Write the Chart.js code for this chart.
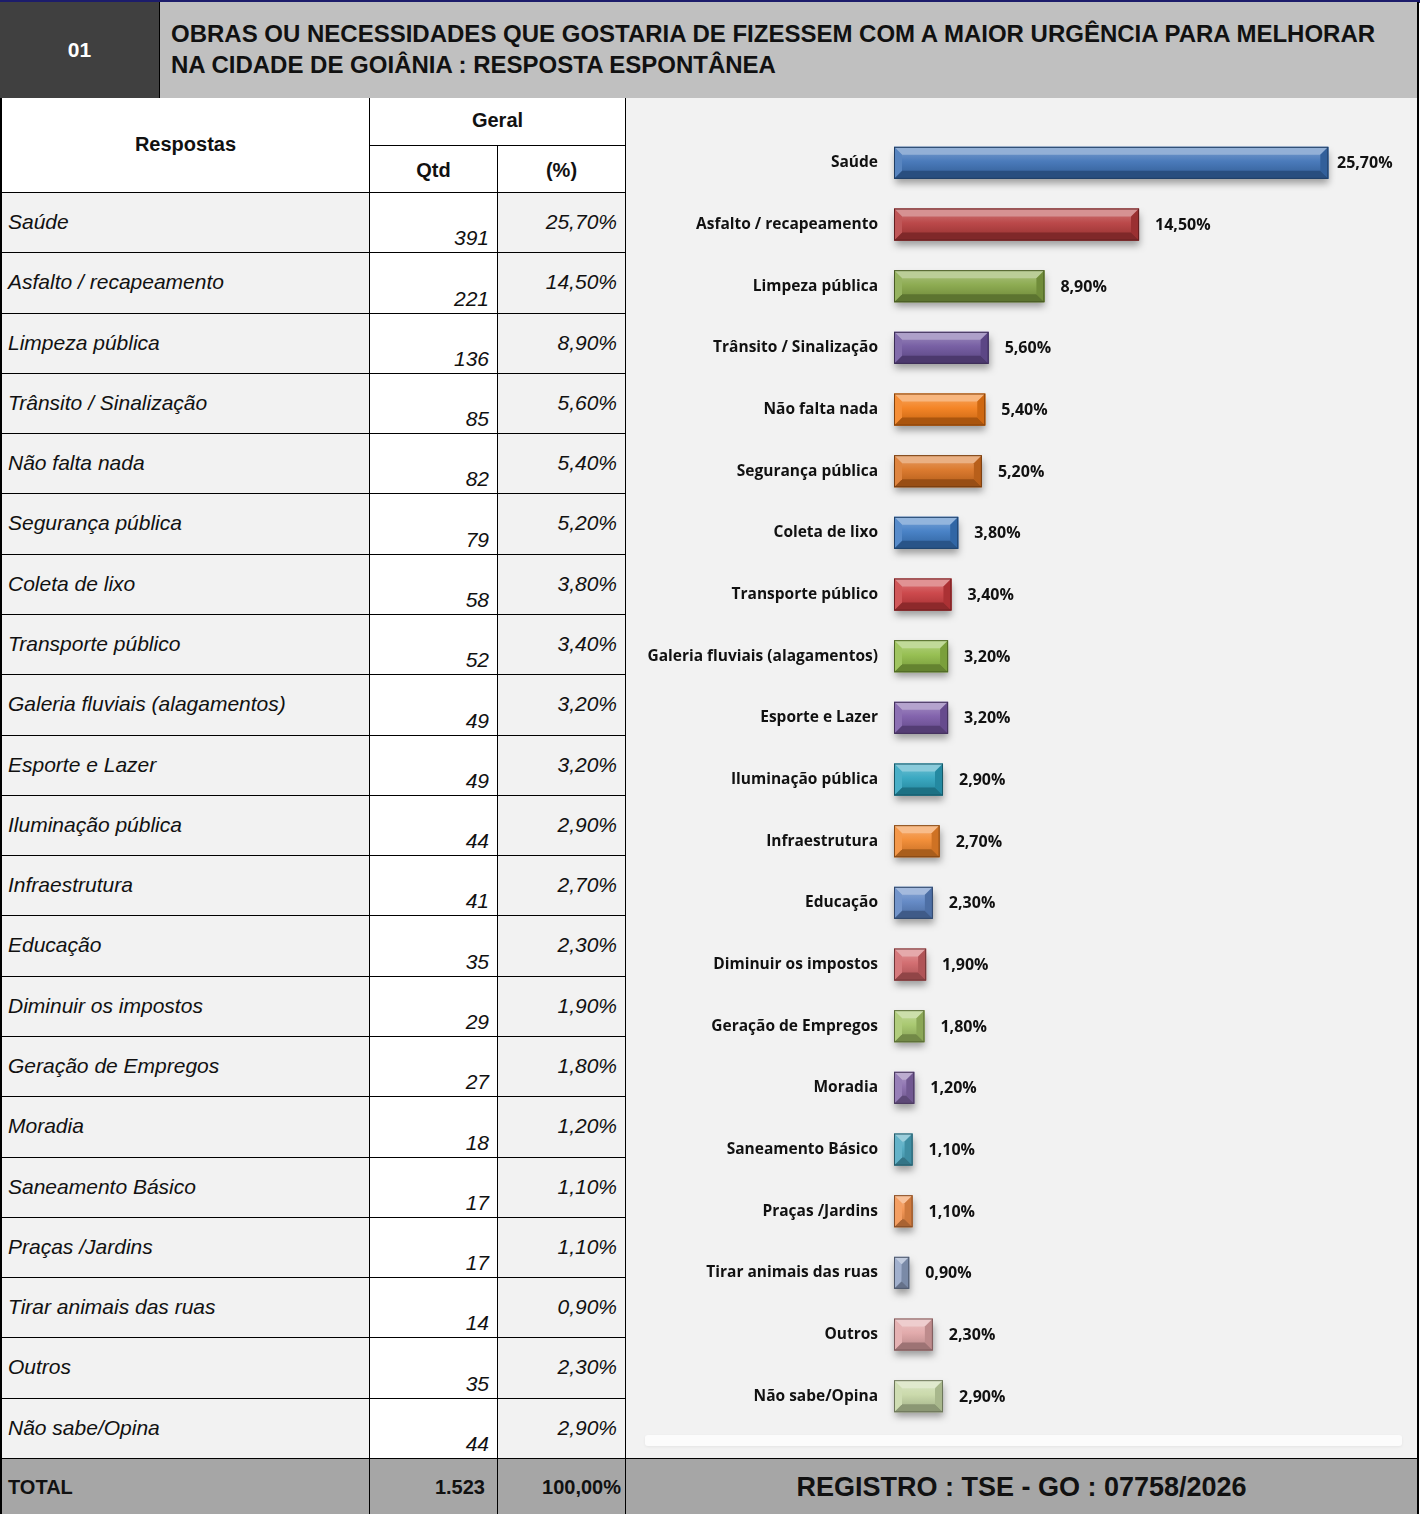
<!DOCTYPE html>
<html>
<head>
<meta charset="utf-8">
<script src="https://cdn.jsdelivr.net/npm/chart.js@4.4.1/dist/chart.umd.min.js"></script>
<style>
  body { margin: 0; background: #fff; font-family: "Liberation Sans", Arial, sans-serif; }
  #page { position: relative; width: 1424px; height: 1514px; overflow: hidden; }
  .abs { position: absolute; box-sizing: border-box; }
  #topline { left: 0; top: 0; width: 1420px; height: 3px; background: #1c1c6b; }
  #num { left: 0; top: 2px; width: 159px; height: 97px; background: #404040; color: #fff;
    font-weight: bold; font-size: 21px; display: flex; align-items: center; justify-content: center; border-bottom: 1px solid #000; }
  #title { left: 159px; top: 2px; width: 1260px; height: 97px; background: #c0c0c0; border-left: 1px solid #000;
    border-right: 2px solid #000; border-bottom: 1px solid #000;
    font-weight: bold; font-size: 24px; line-height: 31px; padding: 16px 0 0 11px; color: #111; }
  .cell { position: absolute; box-sizing: border-box; border-right: 1px solid #000; border-bottom: 1px solid #000; }
  .lab { font-style: italic; font-size: 21px; color: #111; }
  #chartBox { left: 626px; top: 98px; width: 793px; height: 1361px; background: #f2f2f2;
    border-right: 2px solid #000; border-bottom: 1px solid #000; }
  #floor { left: 645px; top: 1435px; width: 757px; height: 11px; background: #fcfcfc; border-radius: 3px;
    box-shadow: 0 1px 3px rgba(0,0,0,0.06); }
  .tot { font-weight: bold; font-size: 20px; color: #111; }
</style>
</head>
<body>
<div id="page">
  <div id="topline" class="abs"></div>
  <div id="num" class="abs">01</div>
  <div id="title" class="abs">OBRAS OU NECESSIDADES QUE GOSTARIA DE FIZESSEM COM A MAIOR URGÊNCIA PARA MELHORAR<br>NA CIDADE DE GOIÂNIA : RESPOSTA ESPONTÂNEA</div>
  <div id="tbl"></div>
  <div id="chartBox" class="abs"><canvas id="grafico" width="791" height="1360"></canvas></div>
  <div id="floor" class="abs"></div>
</div>
<script>
// dados da pesquisa
const respostas = ["Saúde", "Asfalto / recapeamento", "Limpeza pública", "Trânsito / Sinalização", "Não falta nada",
  "Segurança pública", "Coleta de lixo", "Transporte público", "Galeria fluviais (alagamentos)", "Esporte e Lazer",
  "Iluminação pública", "Infraestrutura", "Educação", "Diminuir os impostos", "Geração de Empregos", "Moradia",
  "Saneamento Básico", "Praças /Jardins", "Tirar animais das ruas", "Outros", "Não sabe/Opina"];
const qtd = [391, 221, 136, 85, 82, 79, 58, 52, 49, 49, 44, 41, 35, 29, 27, 18, 17, 17, 14, 35, 44];
const pct = [25.7, 14.5, 8.9, 5.6, 5.4, 5.2, 3.8, 3.4, 3.2, 3.2, 2.9, 2.7, 2.3, 1.9, 1.8, 1.2, 1.1, 1.1, 0.9, 2.3, 2.9];
const cores = ["#3b70b5", "#b5393a", "#84a544", "#6c529c", "#f37a14", "#d9701e", "#3a78c2", "#c93a3d", "#8fbb45",
  "#7857a6", "#2aa1bd", "#f2862a", "#5a82c2", "#cf6366", "#a3c466", "#8568aa", "#4aa6bf", "#f28e48", "#90a2c4",
  "#e0a4a5", "#c6d7a5"];

const fmt = v => v.toFixed(2).replace('.', ',') + '%';

// Tabela
const tbl = document.getElementById("tbl");
function cell(x, y, w, h, html, css) {
  const d = document.createElement("div");
  d.className = "cell";
  d.style.cssText = `left:${x}px;top:${y}px;width:${w}px;height:${h}px;` + (css || "");
  d.innerHTML = html;
  tbl.appendChild(d);
  return d;
}
const hb = "font-weight:bold;font-size:20px;text-align:center;background:#fff;color:#111;";
cell(0, 98, 370, 95, "Respostas", "border-left:2px solid #000;line-height:92px;" + hb);
cell(370, 98, 256, 48, "Geral", "line-height:44px;" + hb);
cell(370, 146, 128, 47, "Qtd", "line-height:48px;" + hb);
cell(498, 146, 128, 47, "(%)", "line-height:48px;" + hb);
const rowH = (1459 - 193) / respostas.length;
respostas.forEach((r, i) => {
  const y = Math.round(193 + i * rowH), h = Math.round(193 + (i + 1) * rowH) - y;
  cell(0, y, 370, h, `<span style="position:absolute;left:6px;top:17px">${r}</span>`, "border-left:2px solid #000;background:#f2f2f2;").classList.add("lab");
  cell(370, y, 128, h, `<span style="position:absolute;right:8px;bottom:2px">${qtd[i]}</span>`, "background:#fff;").classList.add("lab");
  cell(498, y, 128, h, `<span style="position:absolute;right:8px;top:17px">${fmt(pct[i])}</span>`, "background:#f2f2f2;").classList.add("lab");
});
const total = qtd.reduce((a, b) => a + b, 0);
cell(0, 1459, 370, 56, `<span style="position:absolute;left:6px;top:17px">TOTAL</span>`, "border-left:2px solid #000;background:#a6a6a6;").classList.add("tot");
cell(370, 1459, 128, 56, `<span style="position:absolute;right:12px;top:17px">${total.toLocaleString('pt-BR')}</span>`, "background:#a6a6a6;").classList.add("tot");
cell(498, 1459, 128, 56, `<span style="position:absolute;right:4px;top:17px">100,00%</span>`, "background:#a6a6a6;").classList.add("tot");
cell(626, 1459, 793, 56, "REGISTRO : TSE - GO : 07758/2026", "border-right:2px solid #000;background:#a6a6a6;font-weight:bold;font-size:27px;text-align:center;line-height:56px;color:#111;");

// Barras com efeito bisel
function shade(hex, f) {
  const n = parseInt(hex.slice(1), 16);
  let r = n >> 16, g = (n >> 8) & 255, b = n & 255;
  const t = f < 0 ? 0 : 255, p = Math.abs(f);
  r = Math.round(r + (t - r) * p); g = Math.round(g + (t - g) * p); b = Math.round(b + (t - b) * p);
  return `rgb(${r},${g},${b})`;
}
const bisel = {
  id: 'bisel',
  afterDatasetsDraw(c) {
    const ctx = c.ctx;
    c.getDatasetMeta(0).data.forEach((bar, i) => {
      const { x, y, base, height } = bar.getProps(['x', 'y', 'base', 'height'], true);
      const x0 = base, x1 = x, y0 = y - height / 2, y1 = y + height / 2, w = x1 - x0;
      const b = Math.min(8, w / 2, height / 3);
      const col = cores[i];
      ctx.save();
      ctx.shadowColor = 'rgba(0,0,0,0.35)'; ctx.shadowBlur = 7; ctx.shadowOffsetY = 5; ctx.shadowOffsetX = 1;
      ctx.fillStyle = col; ctx.fillRect(x0, y0, w, height);
      ctx.restore();
      const g = ctx.createLinearGradient(0, y0, 0, y1);
      g.addColorStop(0, shade(col, 0.35)); g.addColorStop(0.45, shade(col, 0.08)); g.addColorStop(1, shade(col, -0.2));
      ctx.fillStyle = g; ctx.fillRect(x0, y0, w, height);
      const poly = (pts, fill) => { ctx.beginPath(); ctx.moveTo(pts[0][0], pts[0][1]); pts.slice(1).forEach(p => ctx.lineTo(p[0], p[1])); ctx.closePath(); ctx.fillStyle = fill; ctx.fill(); };
      poly([[x0, y0], [x1, y0], [x1 - b, y0 + b], [x0 + b, y0 + b]], shade(col, 0.45));
      poly([[x0, y1], [x1, y1], [x1 - b, y1 - b], [x0 + b, y1 - b]], shade(col, -0.3));
      poly([[x0, y0], [x0 + b, y0 + b], [x0 + b, y1 - b], [x0, y1]], shade(col, 0.15));
      poly([[x1, y0], [x1 - b, y0 + b], [x1 - b, y1 - b], [x1, y1]], shade(col, -0.15));
      ctx.strokeStyle = shade(col, -0.45); ctx.lineWidth = 1;
      ctx.strokeRect(x0 + 0.5, y0 + 0.5, w - 1, height - 1);
      // rótulo de valor
      ctx.fillStyle = '#111';
      ctx.font = 'bold 16px "Open Sans"';
      ctx.textBaseline = 'middle'; ctx.textAlign = 'left';
      ctx.fillText(fmt(pct[i]), Math.min(x1 + 16, c.width - 80), y + 1);
    });
  }
};

new Chart(document.getElementById('grafico'), {
  type: 'bar',
  data: { labels: respostas, datasets: [{ data: pct, backgroundColor: 'rgba(0,0,0,0)', barThickness: 32 }] },
  options: {
    indexAxis: 'y', responsive: false, animation: false,
    layout: { padding: { top: 34, bottom: 31, right: 16, left: 0 } },
    plugins: { legend: { display: false }, tooltip: { enabled: false } },
    scales: {
      x: { display: false, min: 0, max: 30 },
      y: {
        grid: { display: false }, border: { display: false },
        ticks: { color: '#111', font: { family: 'Open Sans', weight: 'bold', size: 15.5 }, padding: 8 },
        afterFit: s => { s.width = 268; }
      }
    }
  },
  plugins: [bisel]
});
</script>
</body>
</html>
